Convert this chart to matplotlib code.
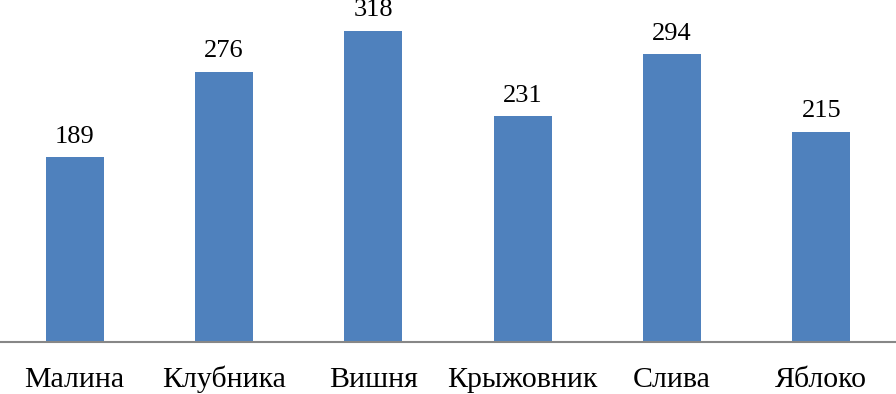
import matplotlib.pyplot as plt
import numpy as np

plt.rcParams['font.family'] = ['Liberation Serif', 'DejaVu Serif']

fruits = ['Малина', 'Клубника', 'Вишня', 'Крыжовник', 'Слива', 'Яблоко']
counts = [189, 276, 318, 231, 294, 215]

fig = plt.figure(figsize=(8.96, 3.94), dpi=100)
ax = fig.add_axes([0, 52 / 394, 1, 342 / 394])

x = np.arange(len(fruits))
bars = ax.bar(x, counts, width=0.39, color='#4F81BD')

for xi, v in zip(x, counts):
    ax.annotate(str(v), (xi, v), xytext=(0, 10.5), textcoords='offset points',
                ha='center', va='baseline', fontsize=19, annotation_clip=False)

# category labels on a common baseline below the axis
for xi, name in zip(x, fruits):
    ax.annotate(name, (xi, 0), xycoords=('data', 'axes fraction'),
                xytext=(0, -32.4), textcoords='offset points',
                ha='center', va='baseline', fontsize=21.5, annotation_clip=False)

ax.set_xlim(-0.5, len(fruits) - 0.5)
ax.set_ylim(0, 349.7)
ax.set_xticks([])
ax.set_yticks([])
for s in ['top', 'left', 'right']:
    ax.spines[s].set_visible(False)
ax.spines['bottom'].set_color('#878787')
ax.spines['bottom'].set_linewidth(1.5)

fig.savefig('out.png', dpi=100)
